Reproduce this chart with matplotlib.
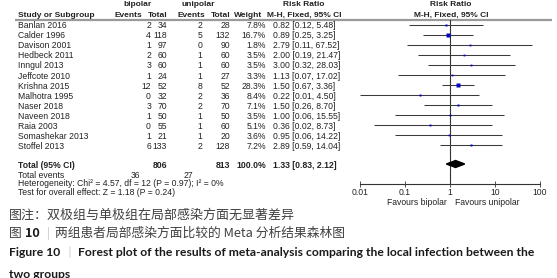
import matplotlib
matplotlib.use("Agg")
import matplotlib.pyplot as plt
import numpy as np

# ---------------- data ----------------
studies = ["Banlan 2016", "Calder 1996", "Davison 2001", "Hedbeck 2011", "Inngul 2013",
           "Jeffcote 2010", "Krishna 2015", "Malhotra 1995", "Naser 2018", "Naveen 2018",
           "Raia 2003", "Somashekar 2013", "Stoffel 2013"]
bi_events = [2, 4, 1, 2, 3, 1, 12, 0, 3, 1, 0, 1, 6]
bi_total = [34, 118, 97, 60, 60, 24, 52, 32, 70, 50, 55, 21, 133]
uni_events = [2, 5, 0, 1, 1, 1, 8, 2, 2, 1, 1, 1, 2]
uni_total = [28, 132, 90, 60, 60, 27, 52, 36, 70, 50, 60, 20, 128]
weights = [7.8, 16.7, 1.8, 3.5, 3.5, 3.3, 28.3, 8.4, 7.1, 3.5, 5.1, 3.6, 7.2]
rr = [0.82, 0.89, 2.79, 2.00, 3.00, 1.13, 1.50, 0.22, 1.50, 1.00, 0.36, 0.95, 2.89]
rr_lo = [0.12, 0.25, 0.11, 0.19, 0.32, 0.07, 0.67, 0.01, 0.26, 0.06, 0.02, 0.06, 0.59]
rr_hi = [5.48, 3.25, 67.52, 21.47, 28.03, 17.02, 3.36, 4.50, 8.70, 15.55, 8.73, 14.22, 14.04]
total_bi, total_uni = 806, 813
total_weight = 100.0
events_bi, events_uni = 36, 27
total_rr, total_lo, total_hi = 1.33, 0.83, 2.12
heterogeneity = "Heterogeneity: Chi² = 4.57, df = 12 (P = 0.97); I² = 0%"
overall_test = "Test for overall effect: Z = 1.18 (P = 0.24)"
xticks = [0.01, 0.1, 1, 10, 100]
xtick_labels = ["0.01", "0.1", "1", "10", "100"]

caption1 = "图注：双极组与单极组在局部感染方面无显著差异"
caption2 = [("图 ", "normal"), ("10", "bold"), (" ｜", "sep"), ("两组患者局部感染方面比较的 Meta 分析结果森林图", "normal")]
caption3 = [("Figure 10 ", "bold"), ("｜", "sep"), (" Forest plot of the results of meta-analysis comparing the local infection between the", "bold")]
caption4 = "two groups"

# ---------------- figure ----------------
W, H = 557, 278
fig = plt.figure(figsize=(W / 100, H / 100), dpi=100)
fig.patch.set_facecolor("white")
bg = fig.add_axes([0, 0, 1, 1])
bg.set_xlim(0, W)
bg.set_ylim(H, 0)
bg.axis("off")

TXT = "#222222"
FONT = "Liberation Sans"
FS = 6.2
common = dict(fontfamily=FONT, fontsize=FS, color=TXT, va="center")
hdr = dict(fontfamily=FONT, fontsize=6.0, color=TXT, va="center", fontweight="bold")

# headers
bg.text(138, 5, "bipolar", ha="center", **hdr)
bg.text(198, 5, "unipolar", ha="center", **hdr)
bg.text(304, 5, "Risk Ratio", ha="center", **hdr)
bg.text(451, 5, "Risk Ratio", ha="center", **hdr)
bg.text(18, 15.5, "Study or Subgroup", ha="left", **hdr)
bg.text(142, 15.5, "Events", ha="right", **hdr)
bg.text(167, 15.5, "Total", ha="right", **hdr)
bg.text(205, 15.5, "Events", ha="right", **hdr)
bg.text(230, 15.5, "Total", ha="right", **hdr)
bg.text(262, 15.5, "Weight", ha="right", **hdr)
bg.text(304, 15.5, "M-H, Fixed, 95% CI", ha="center", **hdr)
bg.text(451, 15.5, "M-H, Fixed, 95% CI", ha="center", **hdr)
bg.plot([15, 552], [19.5, 19.5], color="#9a9a9a", lw=1.6, solid_capstyle="butt")

# rows
row_y = [24.5 + 10.05 * i for i in range(len(studies))]
for i, s in enumerate(studies):
    ty = row_y[i] + 1.3
    bg.text(18, ty, s, ha="left", **common)
    bg.text(151, ty, f"{bi_events[i]}", ha="right", **common)
    bg.text(167, ty, f"{bi_total[i]}", ha="right", **common)
    bg.text(202, ty, f"{uni_events[i]}", ha="right", **common)
    bg.text(230, ty, f"{uni_total[i]}", ha="right", **common)
    bg.text(266, ty, f"{weights[i]:.1f}%", ha="right", **common)
    bg.text(273, ty, f"{rr[i]:.2f} [{rr_lo[i]:.2f}, {rr_hi[i]:.2f}]", ha="left", **common)

ty_tot = 165.5
bg.text(18, ty_tot, "Total (95% CI)", ha="left", fontweight="bold", **common)
bg.text(167, ty_tot, f"{total_bi}", ha="right", fontweight="bold", **common)
bg.text(230, ty_tot, f"{total_uni}", ha="right", fontweight="bold", **common)
bg.text(266, ty_tot, f"{total_weight:.1f}%", ha="right", fontweight="bold", **common)
bg.text(273, ty_tot, f"{total_rr:.2f} [{total_lo:.2f}, {total_hi:.2f}]", ha="left", fontweight="bold", **common)
bg.text(18, 176, "Total events", ha="left", **common)
bg.text(140, 176, f"{events_bi}", ha="right", **common)
bg.text(193, 176, f"{events_uni}", ha="right", **common)
bg.text(18, 184, heterogeneity, ha="left", **common)
bg.text(18, 192.5, overall_test, ha="left", **common)

# ---------------- forest axes ----------------
ax_top, ax_bot = 19.5, 184
fa = fig.add_axes([360 / W, 1 - ax_bot / H, 180 / W, (ax_bot - ax_top) / H])
fa.set_xscale("log")
fa.set_xlim(0.01, 100)
fa.set_ylim(ax_bot, ax_top)
fa.patch.set_alpha(0)
for sp in ["top", "left", "right"]:
    fa.spines[sp].set_visible(False)
fa.spines["bottom"].set_color("#333333")
fa.spines["bottom"].set_linewidth(0.8)
fa.set_yticks([])
fa.set_xticks(xticks)
fa.set_xticklabels(xtick_labels, fontfamily=FONT, fontsize=FS, color=TXT)
fa.xaxis.set_minor_locator(matplotlib.ticker.NullLocator())
fa.tick_params(axis="x", direction="inout", length=4, width=0.6, color="#333333", pad=1.2)

fa.axvline(1, color="#333333", lw=0.8, zorder=1)
for i in range(len(studies)):
    fa.plot([rr_lo[i], rr_hi[i]], [row_y[i], row_y[i]], color="#3a3a3a", lw=0.75, zorder=2,
            solid_capstyle="butt", clip_on=False)
    side_px = max(1.8, 0.85 * np.sqrt(weights[i]))
    fa.plot([rr[i]], [row_y[i]], marker="s", ms=side_px * 0.72, color="#0000c8",
            mec="none", zorder=3, clip_on=False)

yd = 164
fa.fill([total_lo, total_rr, total_hi, total_rr], [yd, yd - 3.5, yd, yd + 3.5],
        color="black", zorder=3, clip_on=False)

bg.text(447, 202.5, "Favours bipolar", ha="right", **common)
bg.text(455, 202.5, "Favours unipolar", ha="left", **common)

# ---------------- captions ----------------
renderer = fig.canvas.get_renderer()
CJK = ["Noto Sans CJK SC", "DejaVu Sans"]
ENG = ["Lato", "Noto Sans CJK SC", "DejaVu Sans"]


def seq_text(x0, y, pieces, family, target_w, color="#333333", base=9.0):
    def layout(fs):
        arts = []
        x = x0
        for s, kind in pieces:
            kw = dict(fontfamily=family, fontsize=fs, va="center", ha="left")
            if kind == "bold":
                kw.update(fontweight="bold", color="#1a1a1a")
            elif kind == "sep":
                kw.update(color="#aaaaaa", fontweight="light")
            else:
                kw.update(color=color)
            t = bg.text(x, y, s, **kw)
            bb = t.get_window_extent(renderer)
            x += bb.width
            arts.append(t)
        return arts, x - x0

    arts, w = layout(base)
    for a in arts:
        a.remove()
    fs = base * target_w / w
    layout(fs)
    return fs


seq_text(9, 215, [(caption1, "normal")], CJK, 286, color="#404040")
seq_text(9, 233.5, caption2, CJK, 336, color="#404040")
fs3 = seq_text(9, 253, caption3, ENG, 523)
bg.text(9, 274, caption4, fontfamily=ENG, fontsize=fs3, fontweight="bold", color="#1a1a1a",
        va="center", ha="left")

fig.savefig("out.png", dpi=100, facecolor="white")
